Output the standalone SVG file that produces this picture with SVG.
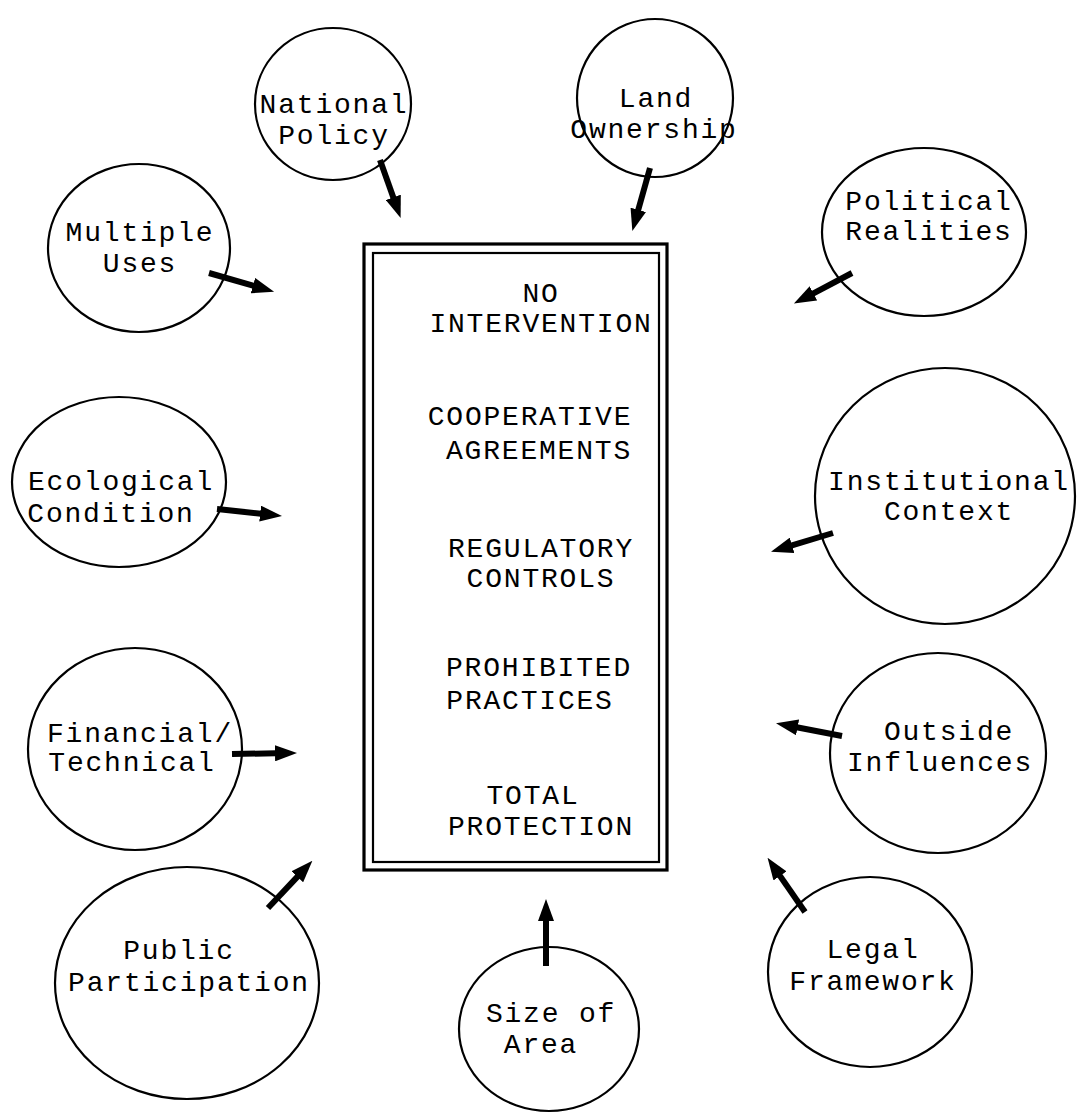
<svg xmlns="http://www.w3.org/2000/svg" width="1082" height="1114" viewBox="0 0 1082 1114">
<style>
.c{fill:none;stroke:#000;stroke-width:2.2}
.t{font-family:"Liberation Mono","Courier New",monospace;font-size:28px;letter-spacing:1.8px;fill:#000;text-anchor:middle}
.a{stroke:#000;stroke-width:6;fill:none;marker-end:url(#ah)}
</style>
<defs>
<marker id="ah" markerWidth="22" markerHeight="16" viewBox="0 -8 22 16" refX="1" refY="0" orient="auto" markerUnits="userSpaceOnUse"><path d="M0,-8 L22,0 L0,8 z" fill="#000"/></marker>
</defs>
<rect width="1082" height="1114" fill="#fff"/>
<g id="center-box">
<rect x="364" y="244" width="303" height="626" fill="none" stroke="#000" stroke-width="3.2"/>
<rect x="373" y="253" width="286" height="609" fill="none" stroke="#000" stroke-width="2.2"/>
<text class="t" x="541" y="302">NO</text>
<text class="t" x="541" y="332">INTERVENTION</text>
<text class="t" x="530" y="425">COOPERATIVE</text>
<text class="t" x="539" y="459">AGREEMENTS</text>
<text class="t" x="541" y="557">REGULATORY</text>
<text class="t" x="541" y="587">CONTROLS</text>
<text class="t" x="539" y="676">PROHIBITED</text>
<text class="t" x="530" y="709">PRACTICES</text>
<text class="t" x="533" y="804">TOTAL</text>
<text class="t" x="541" y="835">PROTECTION</text>
</g>
<g id="national-policy">
<ellipse class="c" cx="333" cy="104" rx="78" ry="76"/>
<text class="t" x="334" y="113">National</text>
<text class="t" x="334" y="144">Policy</text>
</g>
<g id="land-ownership">
<ellipse class="c" cx="655" cy="98" rx="78" ry="79"/>
<text class="t" x="656" y="107">Land</text>
<text class="t" x="654" y="138">Ownership</text>
</g>
<g id="multiple-uses">
<ellipse class="c" cx="139" cy="248" rx="91" ry="84"/>
<text class="t" x="140" y="241">Multiple</text>
<text class="t" x="140" y="272">Uses</text>
</g>
<g id="political-realities">
<ellipse class="c" cx="924" cy="232" rx="102" ry="84"/>
<text class="t" x="929" y="210">Political</text>
<text class="t" x="929" y="240">Realities</text>
</g>
<g id="ecological-condition">
<ellipse class="c" cx="119" cy="482" rx="107" ry="85"/>
<text class="t" x="121" y="490">Ecological</text>
<text class="t" x="111" y="522">Condition</text>
</g>
<g id="institutional-context">
<ellipse class="c" cx="945" cy="496" rx="130" ry="128"/>
<text class="t" x="949" y="490">Institutional</text>
<text class="t" x="949" y="520">Context</text>
</g>
<g id="financial-technical">
<ellipse class="c" cx="135" cy="749" rx="107" ry="101"/>
<text class="t" x="140" y="742">Financial/</text>
<text class="t" x="132" y="771">Technical</text>
</g>
<g id="outside-influences">
<ellipse class="c" cx="938" cy="753" rx="108" ry="100"/>
<text class="t" x="949" y="740">Outside</text>
<text class="t" x="940" y="771">Influences</text>
</g>
<g id="public-participation">
<ellipse class="c" cx="187" cy="983" rx="132" ry="116"/>
<text class="t" x="179" y="959">Public</text>
<text class="t" x="189" y="991">Participation</text>
</g>
<g id="legal-framework">
<ellipse class="c" cx="870" cy="972" rx="102" ry="95"/>
<text class="t" x="873" y="958">Legal</text>
<text class="t" x="873" y="990">Framework</text>
</g>
<g id="size-of-area">
<ellipse class="c" cx="549" cy="1029" rx="90" ry="82"/>
<text class="t" x="551" y="1022">Size of</text>
<text class="t" x="541" y="1053">Area</text>
</g>
<g id="connectors">
<line class="a" x1="380" y1="160" x2="393.6" y2="198.3"/>
<line class="a" x1="650" y1="168" x2="638" y2="210.8"/>
<line class="a" x1="209" y1="273" x2="253.9" y2="285.9"/>
<line class="a" x1="852" y1="273" x2="812.5" y2="293.8"/>
<line class="a" x1="217" y1="509" x2="261.1" y2="513.7"/>
<line class="a" x1="833" y1="533" x2="791.1" y2="545.6"/>
<line class="a" x1="232" y1="754" x2="276" y2="753.3"/>
<line class="a" x1="842" y1="736" x2="796.6" y2="727.2"/>
<line class="a" x1="268" y1="908" x2="298" y2="876.1"/>
<line class="a" x1="805" y1="912" x2="779.5" y2="875.1"/>
<line class="a" x1="546" y1="966" x2="546" y2="920"/>
</g>
</svg>
